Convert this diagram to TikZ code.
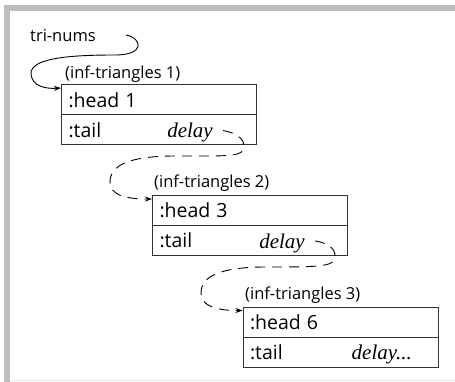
\documentclass[tikz,border=0pt]{standalone}
\usepackage{fontspec}
\setmainfont{Open Sans}
\newfontfamily\delayfont{Liberation Serif}
\usetikzlibrary{arrows.meta}
\definecolor{framegray}{HTML}{BDBDBD}
\definecolor{faintgray}{HTML}{E6E6E6}
\definecolor{boxline}{HTML}{333333}
\tikzset{
  rowbox/.style={draw=boxline, line width=1pt, rectangle, anchor=north west,
    text width=181pt, inner xsep=7pt, inner ysep=0pt, minimum height=30pt,
    align=left, font=\fontsize{19.5}{22}\selectfont},
  objlabel/.style={anchor=base west, inner sep=0pt, font=\fontsize{16.5}{19}\selectfont},
  delaytxt/.style={anchor=base east, inner sep=0pt, font=\delayfont\itshape\fontsize{21}{23}\selectfont},
  solidlink/.style={draw=black, line width=0.9pt, -{Stealth[length=7pt,width=5pt]}},
  lazylink/.style={draw=black, line width=0.9pt, dash pattern=on 10pt off 7pt, -{Stealth[length=7pt,width=5pt]}}
}
\begin{document}
\begin{tikzpicture}[x=1pt,y=-1pt]
\useasboundingbox (0,0) rectangle (455,382);
\fill[framegray] (4,5) rectangle (455,11);
\fill[framegray] (4,5) rectangle (10,382);
\draw[faintgray, line width=0.8pt] (10,380.6) -- (455,380.6);

% name label
\node[objlabel] (tn) at (30,41.7) {tri-nums};
\coordinate (c0) at (126,35);

% object 1
\node[objlabel] (l1) at (65,78.3) {(inf-triangles 1)};
\node[rowbox] (h1) at (61,84.5) {:head\hspace{6pt}1};
\node[rowbox] (t1) at (61,114.5) {:tail};
\node[delaytxt] (d1) at (213,137.5) {delay};
\coordinate (s1) at (223,130.5);

% object 2
\node[objlabel] (l2) at (154,187.5) {(inf-triangles 2)};
\node[rowbox] (h2) at (152,195) {:head\hspace{6pt}3};
\node[rowbox] (t2) at (152,225) {:tail};
\node[delaytxt] (d2) at (305,248) {delay};
\coordinate (s2) at (315,241);

% object 3
\node[objlabel] (l3) at (245,299) {(inf-triangles 3)};
\node[rowbox] (h3) at (242.5,306.5) {:head\hspace{6pt}6};
\node[rowbox] (t3) at (242.5,336.5) {:tail};
\node[delaytxt] (d3) at (412,359.5) {delay...};

% connectors
\draw[solidlink] (c0) .. controls (142,38) and (146,55) .. (115,55)
  .. controls (70,55) and (30,58) .. (31,74)
  .. controls (32,86) and (45,89) .. ([yshift=-3.5pt]h1.north west);
\draw[lazylink] (s1) .. controls (238,133) and (247,141) .. (243,150)
  .. controls (240,157) and (220,156) .. (175,156)
  .. controls (130,156) and (110,165) .. (110,182)
  .. controls (110,195) and (125,199) .. ([yshift=-4pt]h2.north west);
\draw[lazylink] (s2) .. controls (330,243) and (338,251) .. (334,260)
  .. controls (331,267) and (311,267) .. (266,267)
  .. controls (221,267) and (201,276) .. (201,293)
  .. controls (201,306) and (216,310.5) .. ([yshift=-4pt]h3.north west);
\end{tikzpicture}
\end{document}
